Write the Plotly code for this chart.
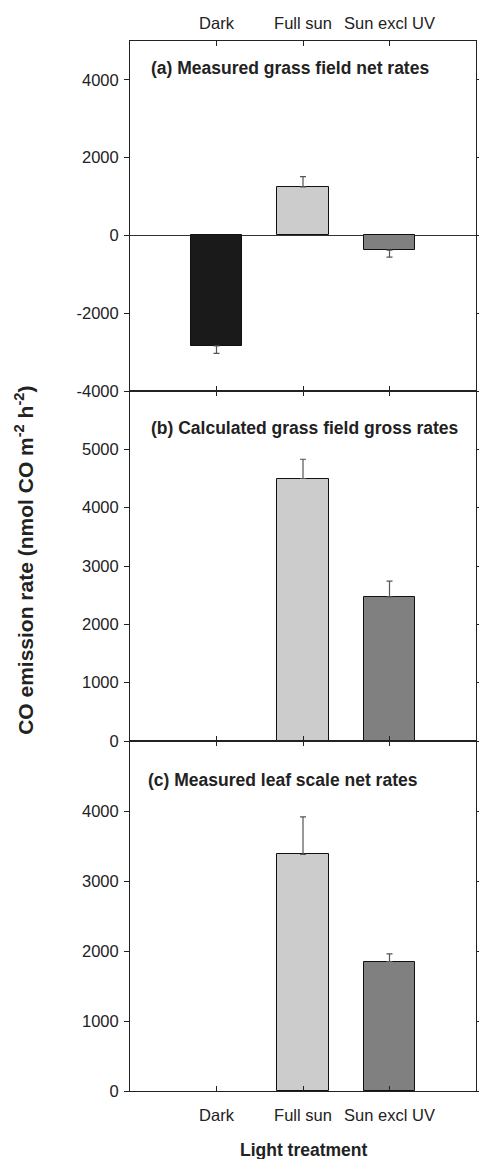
import plotly.graph_objects as go

categories = ["Dark", "Full sun", "Sun excl UV"]
bar_colors = ["#1a1a1a", "#cccccc", "#808080"]

# Panel (a) measured grass field net rates
a_values = [-2840, 1250, -380]
a_errors = [190, 260, 175]
# Panel (b) calculated grass field gross rates
b_values = [None, 4500, 2470]
b_errors = [None, 330, 270]
# Panel (c) measured leaf scale net rates
c_values = [None, 3380, 1850]
c_errors = [None, 535, 110]

panel_titles = ["(a) Measured grass field net rates",
                "(b) Calculated grass field gross rates",
                "(c) Measured leaf scale net rates"]
y_ranges = [[-4000, 5000], [0, 6000], [0, 5000]]
y_tickvals = [[-4000, -2000, 0, 2000, 4000],
              [0, 1000, 2000, 3000, 4000, 5000],
              [0, 1000, 2000, 3000, 4000]]
y_ticktext = [["-4000", "-2000", "0", "2000", "4000"],
              ["0", "1000", "2000", "3000", "4000", "5000"],
              ["0", "1000", "2000", "3000", "4000"]]

FONT = "Liberation Sans, Arial, sans-serif"
xpos = [1, 2, 3]

fig = go.Figure()
panels = [(a_values, a_errors), (b_values, b_errors), (c_values, c_errors)]
domains = [[2/3, 1.0], [1/3, 2/3], [0.0, 1/3]]

for i, (vals, errs) in enumerate(panels):
    up = [(e if (v is not None and v >= 0) else 0) if e is not None else 0 for v, e in zip(vals, errs)]
    down = [(e if (v is not None and v < 0) else 0) if e is not None else 0 for v, e in zip(vals, errs)]
    ax = "" if i == 0 else str(i + 1)
    fig.add_trace(go.Bar(
        x=xpos, y=vals, width=0.6,
        marker=dict(color=bar_colors, line=dict(color="#111111", width=1)),
        error_y=dict(type="data", symmetric=False, array=up, arrayminus=down,
                     color="#555555", thickness=1.2, width=3),
        xaxis="x" + ax, yaxis="y" + ax, showlegend=False,
    ))

# page body has an 8px margin, so the figure is 8px smaller and shifted
layout = dict(
    width=479, height=1151,
    margin=dict(l=122, r=5, t=33, b=68),
    plot_bgcolor="white", paper_bgcolor="white",
    font=dict(family=FONT, size=16, color="#222222"),
    bargap=0,
)

for i in range(3):
    ax = "" if i == 0 else str(i + 1)
    xa = dict(
        domain=[0, 1], range=[0, 4], tickvals=xpos, ticktext=categories,
        ticks="inside", ticklen=5, tickcolor="#222222",
        showline=True, linecolor="#222222", linewidth=1, mirror="ticks",
        showgrid=False, zeroline=False, anchor="y" + ax, fixedrange=True,
        tickfont=dict(size=16.5, family=FONT, color="#222222"),
        ticklabelstandoff=9,
    )
    if i == 0:
        xa["side"] = "top"
        xa["ticklabelstandoff"] = 4
    elif i == 1:
        xa["showticklabels"] = False
    if i > 0:
        xa["matches"] = "x"
    layout["xaxis" + ax] = xa
    layout["yaxis" + ax] = dict(
        domain=domains[i], range=y_ranges[i],
        tickvals=y_tickvals[i], ticktext=y_ticktext[i],
        ticks="outside", ticklen=5, tickcolor="#222222",
        showline=True, linecolor="#222222", linewidth=1, mirror="ticks",
        showgrid=False, zeroline=(i == 0), zerolinecolor="#333333", zerolinewidth=1,
        anchor="x" + ax, tickfont=dict(size=16.5, family=FONT, color="#222222"),
        ticklabelstandoff=2,
    )

fig.update_layout(**layout)

PW = 352.0
PH = 1050.0
annotations = []
title_y_px = [67.7, 427.7, 780]
title_x_px = [149, 149, 146]
for i, t in enumerate(panel_titles):
    annotations.append(dict(
        text="<b>" + t + "</b>", xref="paper", yref="paper",
        x=(title_x_px[i] - 130) / PW, y=1 - (title_y_px[i] - 41) / PH,
        xanchor="left", yanchor="middle", showarrow=False,
        font=dict(size=17.5, family=FONT, color="#222222"),
    ))
annotations.append(dict(
    text="<b>CO emission rate (nmol CO m<sup>-2</sup> h<sup>-2</sup>)</b>",
    xref="paper", yref="paper", x=(22 - 130) / PW, y=1 - (560 - 41) / PH,
    xanchor="center", yanchor="middle", textangle=-90, showarrow=False,
    font=dict(size=21, family=FONT, color="#222222"),
))
annotations.append(dict(
    text="<b>Light treatment</b>", xref="paper", yref="paper",
    x=(307 - 130) / PW, y=1 - (1150 - 41) / PH,
    xanchor="center", yanchor="middle", showarrow=False,
    font=dict(size=17.5, family=FONT, color="#222222"),
))
fig.update_layout(annotations=annotations)

fig.write_html("out.html")
